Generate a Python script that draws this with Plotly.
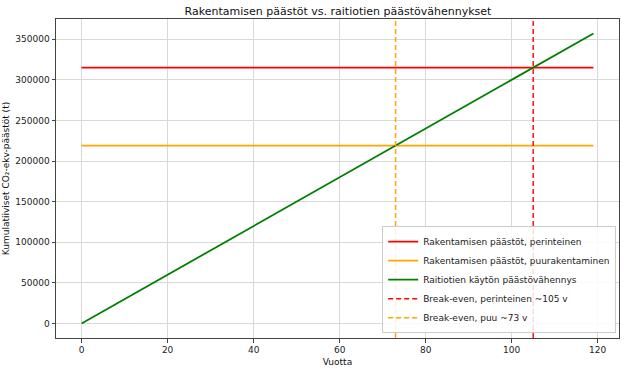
import plotly.graph_objects as go

years = [0, 119]
red_level = [315000, 315000]
orange_level = [219000, 219000]
green_values = [0, 357000]
breakeven_red = 105
breakeven_orange = 73

x_ticks = [0, 20, 40, 60, 80, 100, 120]
y_ticks = [0, 50000, 100000, 150000, 200000, 250000, 300000, 350000]

fig = go.Figure()
fig.add_trace(go.Scatter(x=years, y=red_level, mode="lines",
                         line=dict(color="#ff0000", width=1.8),
                         name="Rakentamisen päästöt, perinteinen"))
fig.add_trace(go.Scatter(x=years, y=orange_level, mode="lines",
                         line=dict(color="#ffa500", width=1.8),
                         name="Rakentamisen päästöt, puurakentaminen"))
fig.add_trace(go.Scatter(x=years, y=green_values, mode="lines",
                         line=dict(color="#008000", width=1.8),
                         name="Raitiotien käytön päästövähennys"))
ymin, ymax = -17850, 374850
fig.add_trace(go.Scatter(x=[breakeven_red, breakeven_red], y=[ymin, ymax], mode="lines",
                         line=dict(color="#ff0000", width=1.4, dash="5px,3px"),
                         name="Break-even, perinteinen ~105 v"))
fig.add_trace(go.Scatter(x=[breakeven_orange, breakeven_orange], y=[ymin, ymax], mode="lines",
                         line=dict(color="#ffa500", width=1.5, dash="5px,3px"),
                         name="Break-even, puu ~73 v"))

axis_common = dict(showgrid=True, gridcolor="#d9d9d9", gridwidth=1,
                   showline=True, linecolor="#444", linewidth=1, mirror=True,
                   ticks="outside", ticklen=3.5, tickcolor="#444",
                   zeroline=False, tickfont=dict(size=9, color="#222"))

fig.update_layout(
    width=624, height=370,
    margin=dict(l=56, r=4, t=19, b=29),
    paper_bgcolor="white", plot_bgcolor="white",
    font=dict(family="DejaVu Sans", color="#111"),
    title=dict(text="Rakentamisen päästöt vs. raitiotien päästövähennykset",
               x=338/624, xanchor="center", y=1 - 11/370, yanchor="middle",
               font=dict(size=11, color="#111")),
    xaxis=dict(range=[-5.95, 124.95], tickvals=x_ticks,
               title=dict(text="Vuotta", font=dict(size=9), standoff=4), **axis_common),
    yaxis=dict(range=[ymin, ymax], tickvals=y_ticks, tickformat="d",
               title=dict(text="Kumulatiiviset CO₂-ekv-päästöt (t)", font=dict(size=9), standoff=4),
               **axis_common),
    legend=dict(x=0.995, y=0.015, xanchor="right", yanchor="bottom",
                bgcolor="rgba(255,255,255,0.85)", bordercolor="#ccc", borderwidth=1,
                font=dict(size=9, color="#222"), tracegroupgap=0,
                itemwidth=30),
    showlegend=True,
)

fig.write_html("out.html")
